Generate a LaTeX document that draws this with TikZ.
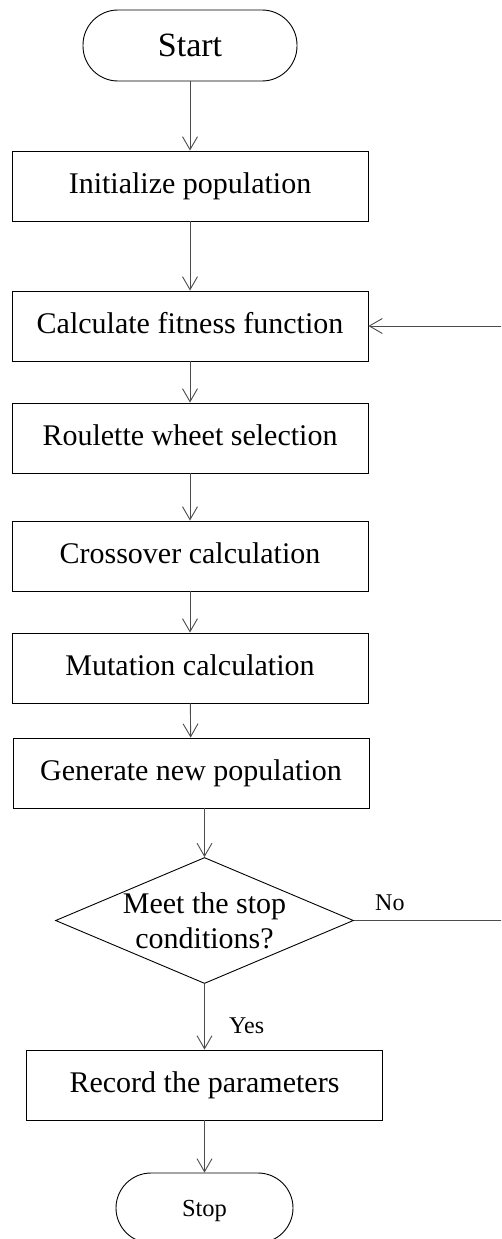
\documentclass[tikz,border=0pt]{standalone}
\usepackage{fontspec}
\setmainfont{Liberation Serif}
\usetikzlibrary{shapes.geometric,arrows.meta}
\begin{document}
\begin{tikzpicture}[x=1pt,y=-1pt,
  procbox/.style={draw=black,line width=0.9pt,minimum width=356pt,minimum height=70pt,inner sep=0pt,font=\fontsize{30}{35}\selectfont,text height=21pt,text depth=5.5pt},
  termbox/.style={draw=black,line width=0.9pt,rounded corners=35pt,inner sep=0pt},
  decbox/.style={draw=black,line width=0.9pt,diamond,minimum width=298pt,minimum height=126pt,inner sep=0pt},
  flow/.style={draw=black!70,line width=0.9pt,-{Straight Barb[length=13pt,width=15pt]}},
  lbl/.style={font=\fontsize{24}{28}\selectfont,inner sep=0pt}]
\clip (0,0) rectangle (501,1239);
\node[termbox,minimum width=214pt,minimum height=71pt,font=\fontsize{34}{40}\selectfont,text height=22.5pt,text depth=0pt] (start) at (190,45.5) {Start};
\node[procbox] (init) at (190,186) {Initialize population};
\node[procbox] (fit) at (190,326) {Calculate fitness function};
\node[procbox] (rou) at (190,438) {Roulette wheet selection};
\node[procbox] (cross) at (190,556) {Crossover calculation};
\node[procbox] (mut) at (190,668) {Mutation calculation};
\node[procbox] (gen) at (191,773) {Generate new population};
\node[decbox] (dec) at (204.5,920.5) {};
\node[align=center,inner sep=0pt,font=\fontsize{30}{35}\selectfont] (dectext) at (204.5,921) {Meet the stop\\conditions?};
\node[procbox] (rec) at (204.5,1085) {Record the parameters};
\node[termbox,minimum width=177pt,minimum height=70pt,font=\fontsize{24.5}{29}\selectfont,text height=16pt,text depth=0pt] (stop) at (204.5,1208) {Stop};
\node[lbl,anchor=base west] (yes) at (229,1033) {Yes};
\node[lbl,anchor=base west] (no) at (375,910.7) {No};
\coordinate (loopA) at (512,920.5);
\coordinate (loopB) at (512,326);
\draw[flow] (start) -- (init);
\draw[flow] (init) -- (fit);
\draw[flow] (fit) -- (rou);
\draw[flow] (rou) -- (cross);
\draw[flow] (cross) -- (mut);
\draw[flow] (mut) -- (gen);
\draw[flow] (gen.south -| dec.north) -- (dec.north);
\draw[flow] (dec.south) -- (rec.north);
\draw[flow] (rec) -- (stop);
\draw[flow] (dec.east) -- (loopA) -- (loopB) -- (fit.east);
\end{tikzpicture}
\end{document}
